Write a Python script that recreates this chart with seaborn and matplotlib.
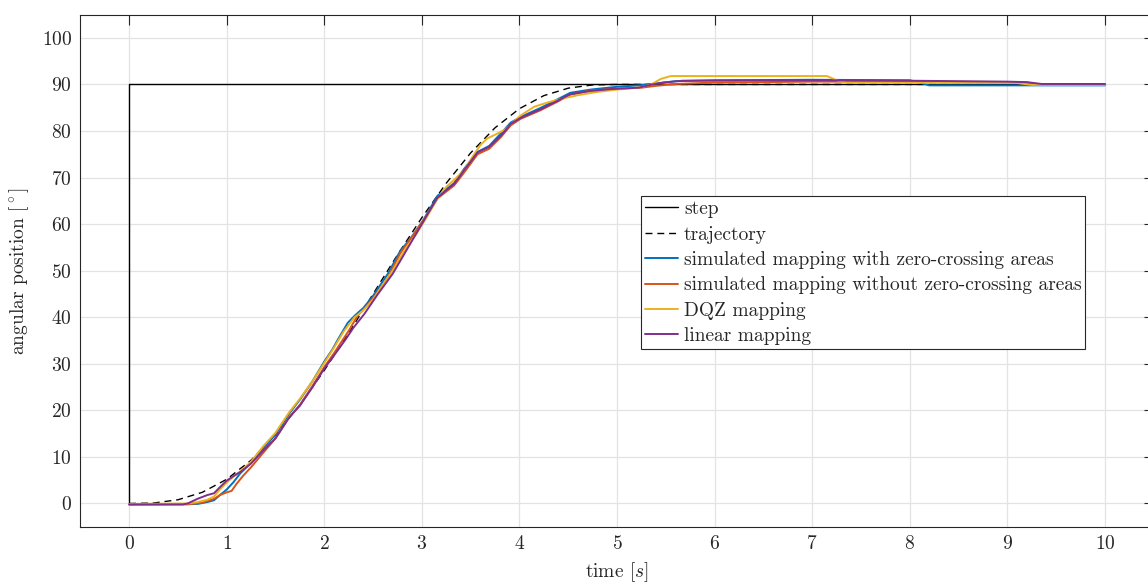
import matplotlib
matplotlib.use("Agg")
import matplotlib.pyplot as plt
import seaborn as sns

# ---------------- data ----------------
step_t = [0, 0, 10]
step_v = [0, 90, 90]

traj_t = [0, 0.25, 0.5, 0.75, 1.0, 1.25, 1.5, 1.75, 2.0, 2.25, 2.5, 2.75,
          3.0, 3.25, 3.5, 3.75, 4.0, 4.25, 4.5, 4.75, 5.0, 10.0]
traj_v = [0, 0.1, 0.8, 2.4, 5.2, 9.3, 14.7, 21.2, 28.6, 36.6, 45.0, 53.4,
          61.4, 68.8, 75.3, 80.7, 84.8, 87.6, 89.2, 89.9, 90.0, 90.0]

zc_t = [0, 0.7, 0.8, 0.87, 0.93, 1.0, 1.07, 1.14, 1.25, 1.37, 1.5, 1.64,
        1.75, 1.88, 2.0, 2.08, 2.15, 2.24, 2.31, 2.4, 2.49, 2.57, 2.65, 2.78,
        2.89, 3.01, 3.16, 3.25, 3.33, 3.43, 3.57, 3.69, 3.81, 3.91, 4.01,
        4.22, 4.39, 4.52, 4.73, 5.0, 5.22, 5.4, 5.6, 6.0, 7.0, 8.0, 8.1,
        8.2, 10.0]
zc_v = [-0.2, -0.1, 0.3, 0.7, 1.8, 3.0, 4.6, 6.5, 8.8, 11.8, 14.8, 19.3,
        22.3, 26.3, 30.5, 33.0, 35.6, 38.8, 40.3, 42.0, 44.3, 46.8, 49.3, 54.3,
        57.1, 60.7, 66.1, 67.5, 68.8, 71.8, 75.5, 76.8, 79.5, 81.8, 83.0,
        85.0, 86.8, 88.2, 88.9, 89.5, 89.8, 90.2, 90.7, 90.9, 91.0, 90.9, 90.4,
        89.8, 89.8]

nozc_t = [0, 0.6, 0.75, 0.87, 0.93, 1.0, 1.05, 1.1, 1.17, 1.25, 1.37, 1.5,
          1.64, 1.75, 1.88, 2.0, 2.1, 2.25, 2.34, 2.45, 2.55, 2.65, 2.78, 2.9,
          3.02, 3.16, 3.25, 3.33, 3.43, 3.57, 3.69, 3.81, 3.91, 4.01, 4.22,
          4.39, 4.52, 4.73, 5.0, 5.25, 5.4, 5.6, 6.0, 7.0, 8.0, 9.0, 9.2, 9.3,
          10.0]
nozc_v = [-0.2, -0.2, 0.2, 1.0, 1.8, 2.4, 2.7, 4.2, 6.0, 7.8, 10.8, 14.0,
          18.5, 21.2, 25.3, 29.3, 32.3, 37.1, 40.3, 42.8, 45.5, 48.5, 53.8, 57.3,
          61.0, 65.5, 67.0, 68.3, 71.0, 75.0, 76.2, 78.7, 81.2, 82.6, 84.5,
          86.3, 87.8, 88.7, 89.1, 89.3, 89.7, 90.1, 90.4, 90.6, 90.6, 90.5, 90.4,
          90.0, 90.0]

dqz_t = [0, 0.6, 0.7, 0.8, 0.87, 0.93, 1.0, 1.07, 1.14, 1.25, 1.37, 1.5,
         1.64, 1.75, 1.88, 2.0, 2.1, 2.2, 2.31, 2.4, 2.5, 2.6, 2.7, 2.82, 2.94,
         3.05, 3.16, 3.25, 3.33, 3.43, 3.52, 3.6, 3.67, 3.75, 3.85, 3.93, 4.01,
         4.15, 4.3, 4.45, 4.6, 4.8, 5.0, 5.25, 5.35, 5.45, 5.55, 7.15, 7.25,
         7.35, 9.1, 9.25, 10.0]
dqz_v = [-0.1, 0.0, 0.3, 0.8, 1.5, 3.0, 4.5, 5.8, 6.9, 9.0, 12.2, 15.2,
         19.6, 22.5, 26.3, 30.2, 33.5, 37.0, 40.0, 41.5, 43.8, 47.0, 50.0, 54.3,
         57.8, 61.5, 65.5, 68.0, 69.5, 71.5, 74.5, 77.0, 78.4, 79.2, 80.3, 81.8,
         83.3, 85.2, 86.2, 87.0, 87.7, 88.4, 88.9, 89.4, 90.0, 91.2, 91.8, 91.8,
         90.9, 90.4, 90.3, 89.9, 89.9]

lin_t = [0, 0.55, 0.6, 0.7, 0.8, 0.87, 0.93, 1.0, 1.07, 1.15, 1.25, 1.37,
         1.5, 1.64, 1.75, 1.88, 2.0, 2.1, 2.22, 2.3, 2.41, 2.55, 2.7, 2.82,
         2.94, 3.06, 3.16, 3.25, 3.33, 3.43, 3.57, 3.69, 3.81, 3.91, 4.01, 4.22,
         4.39, 4.52, 4.73, 4.93, 5.22, 5.34, 5.47, 5.67, 7.0, 8.0, 9.0, 9.2,
         9.35, 10.0]
lin_v = [-0.2, -0.2, 0.0, 1.0, 1.8, 2.2, 3.5, 4.9, 5.9, 6.9, 8.6, 11.3,
         14.0, 18.5, 21.0, 25.0, 29.0, 31.8, 35.3, 37.8, 40.7, 45.0, 49.3, 53.6,
         57.9, 62.2, 65.7, 67.3, 68.6, 71.5, 75.4, 76.6, 79.0, 81.5, 82.8, 84.7,
         86.5, 87.9, 88.6, 89.0, 89.3, 89.9, 90.4, 90.8, 90.9, 90.8, 90.6, 90.5,
         90.1, 90.1]

x_ticks = list(range(0, 11))
y_ticks = list(range(0, 101, 10))

# ---------------- style ----------------
sns.set_style("white")
plt.rcParams["font.family"] = "serif"
plt.rcParams["font.serif"] = ["cmr10", "DejaVu Serif"]
plt.rcParams["mathtext.fontset"] = "cm"
plt.rcParams["axes.formatter.use_mathtext"] = True
plt.rcParams["axes.unicode_minus"] = False

fig = plt.figure(figsize=(11.48, 5.84), dpi=100)
ax = fig.add_axes([0.070, 0.098, 0.935, 0.877])

sns.lineplot(x=step_t, y=step_v, estimator=None, sort=False, color="black",
             lw=1.0, label="step", ax=ax)
sns.lineplot(x=traj_t, y=traj_v, estimator=None, sort=False, color="black",
             lw=1.0, label="trajectory", ax=ax)
ax.lines[-1].set_dashes([5, 3.5])
sns.lineplot(x=zc_t, y=zc_v, estimator=None, sort=False, color="#0072BD",
             lw=1.4, label="simulated mapping with zero-crossing areas", ax=ax)
sns.lineplot(x=nozc_t, y=nozc_v, estimator=None, sort=False, color="#D95319",
             lw=1.4, label="simulated mapping without zero-crossing areas", ax=ax)
sns.lineplot(x=dqz_t, y=dqz_v, estimator=None, sort=False, color="#EDB120",
             lw=1.4, label="DQZ mapping", ax=ax)
sns.lineplot(x=lin_t, y=lin_v, estimator=None, sort=False, color="#7E2F8E",
             lw=1.4, label="linear mapping", ax=ax)

ax.set_xlim(-0.5, 10.5)
ax.set_ylim(-5, 105)
ax.set_xticks(x_ticks)
ax.set_yticks(y_ticks)
ax.grid(True, color="#e3e3e3", lw=0.9)
ax.set_axisbelow(True)
for s in ax.spines.values():
    s.set_color("#262626")
    s.set_linewidth(0.8)
ax.tick_params(direction="in", length=7.5, width=0.8, color="#262626",
               top=True, right=True, labelsize=14, pad=6, labelcolor="#262626")

ax.set_xlabel(r"time [$s$]", fontsize=14, color="#262626", labelpad=5)
ax.set_ylabel(r"angular position [$^\circ$]", fontsize=14, color="#262626",
              labelpad=8)

leg = ax.legend(loc="upper left", bbox_to_anchor=(0.5225, 0.645), fontsize=14,
                frameon=True, fancybox=False, framealpha=1, edgecolor="#262626",
                handlelength=1.7, handletextpad=0.3, borderpad=0.2,
                labelspacing=0.38, borderaxespad=0)
leg.get_frame().set_linewidth(0.8)

fig.savefig("out.png", dpi=100)
